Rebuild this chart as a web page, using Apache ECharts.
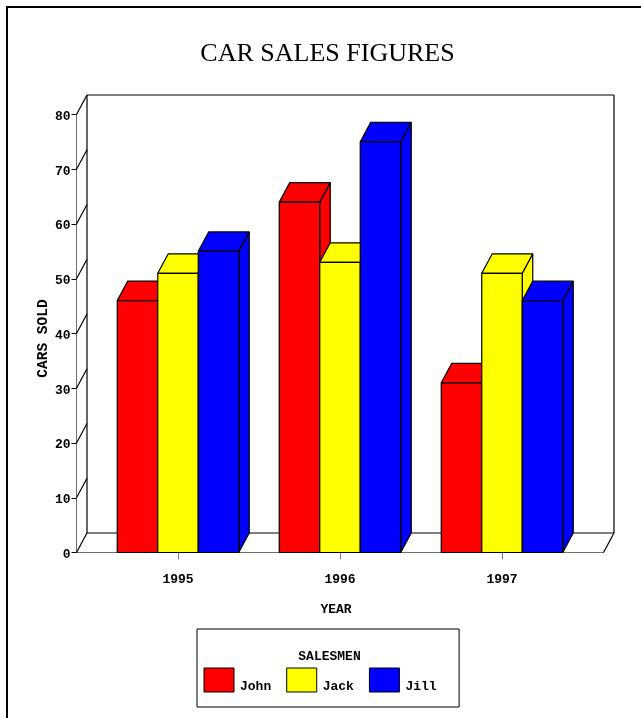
<!DOCTYPE html>
<html><head><meta charset="utf-8">
<style>html,body{margin:0;padding:0;background:#fff}#c{width:641px;height:718px}</style>
<script src="https://cdn.jsdelivr.net/npm/echarts@6/dist/echarts.min.js"></script>
</head><body><div id="c"></div>
<script>
const years = [1995, 1996, 1997];
const john = [46, 64, 31];
const jack = [51, 53, 51];
const jill = [55, 75, 46];
const yTicks = [0, 10, 20, 30, 40, 50, 60, 70, 80];
const xMin = 1994.3735, xMax = 1997.6265, barUnits = 0.25;
const depthX = 10.5, depthY = 19.5;
const MONO = '"Liberation Mono", monospace';

const chart = echarts.init(document.getElementById('c'), null, {renderer: 'canvas'});
function line(a, b, stroke) {
  return {type: 'line', shape: {x1: a[0], y1: a[1], x2: b[0], y2: b[1]},
          style: {stroke: stroke || '#000', lineWidth: 1.2}};
}
function poly(pts, fill) {
  return {type: 'polygon', shape: {points: pts},
          style: {fill: fill, stroke: '#000', lineWidth: 1.2, lineJoin: 'bevel'}};
}
function barSeries(name, color, values, idx) {
  return {
    name, type: 'custom', z: 3, itemStyle: {color},
    data: years.map((y, i) => [y, values[i]]),
    encode: {x: 0, y: 1},
    renderItem(params, api) {
      const x = api.value(0) + (idx - 1.5) * barUnits;
      const tl = api.coord([x, api.value(1)]);
      const br = api.coord([x + barUnits, 0]);
      const L = tl[0], T = tl[1], R = br[0], B = br[1];
      return {type: 'group', children: [
        poly([[R, T], [R + depthX, T - depthY], [R + depthX, B - depthY], [R, B]], color),
        poly([[L, T], [L + depthX, T - depthY], [R + depthX, T - depthY], [R, T]], color),
        poly([[L, T], [R, T], [R, B], [L, B]], color)
      ]};
    }
  };
}
const frameSeries = {
  type: 'custom', z: 1, silent: true, name: 'frame',
  data: yTicks.map(v => [xMin, v]),
  encode: {x: 0, y: 1},
  renderItem(params, api) {
    const v = api.value(1);
    const p = api.coord([xMin, v]);
    const kids = [line(p, [p[0] + depthX, p[1] - depthY])];
    if (v === 0) {
      const r = api.coord([xMax, 0]);
      const t = api.coord([xMin, 80]);
      const bl = [p[0] + depthX, p[1] - depthY], br = [r[0] + depthX, r[1] - depthY];
      const tl = [t[0] + depthX, t[1] - depthY], tr = [br[0], tl[1]];
      kids.push(line(bl, br), line(r, br), line(bl, tl), line(tl, tr), line(br, tr));
    }
    return {type: 'group', children: kids};
  }
};
chart.setOption({
  animation: false,
  backgroundColor: '#fff',
  title: {
    text: 'CAR SALES FIGURES', left: 322.5, top: 36, textAlign: 'center',
    textStyle: {fontFamily: '"Liberation Serif", serif', fontSize: 26, fontWeight: 'normal', color: '#000'}
  },
  grid: {left: 76.5, right: 37.5, top: 114.5, bottom: 165.5, containLabel: false},
  xAxis: {
    type: 'value', min: xMin, max: xMax,
    name: 'YEAR', nameLocation: 'middle', nameGap: 51, nameMoveOverlap: false,
    nameTextStyle: {fontFamily: MONO, fontSize: 13, fontWeight: 'bold', color: '#000', padding: [0, 8, 0, 0]},
    splitLine: {show: false},
    axisLine: {show: true, lineStyle: {color: '#707070', width: 1}},
    axisTick: {show: true, length: 7, customValues: years, lineStyle: {color: '#808080'}},
    axisLabel: {show: true, customValues: years, margin: 21, formatter: v => String(v),
      fontFamily: MONO, fontSize: 13, fontWeight: 'bold', color: '#000'}
  },
  yAxis: {
    type: 'value', min: 0, max: 80, interval: 10,
    name: 'CARS SOLD', nameLocation: 'middle', nameGap: 26, nameRotate: 90, nameMoveOverlap: false,
    nameTextStyle: {fontFamily: MONO, fontSize: 14.5, fontWeight: 'bold', color: '#000', padding: [0, 10, 0, 0]},
    splitLine: {show: false},
    axisLine: {show: true, lineStyle: {color: '#707070', width: 1}},
    axisTick: {show: true, length: 5, lineStyle: {color: '#000'}},
    axisLabel: {margin: 6, formatter: '{t|{value}}', fontFamily: MONO, fontSize: 13, fontWeight: 'bold', color: '#000',
      rich: {t: {fontFamily: MONO, fontSize: 13, fontWeight: 'bold', color: '#000', padding: [4, 0, 0, 0]}}}
  },
  legend: {
    show: true, data: ['John', 'Jack', 'Jill'], left: 197, top: 629, orient: 'horizontal',
    padding: [38.5, 22.5, 14, 6.5], itemWidth: 30, itemHeight: 24, itemGap: 15,
    icon: 'rect', borderColor: '#000', borderWidth: 1, backgroundColor: '#fff',
    selectedMode: false,
    itemStyle: {borderColor: '#000', borderWidth: 1},
    formatter: '{t|{name}}',
    textStyle: {fontFamily: MONO, fontSize: 13, fontWeight: 'bold', color: '#000',
      rich: {t: {fontFamily: MONO, fontSize: 13, fontWeight: 'bold', color: '#000', padding: [13, 0, 0, 1]}}}
  },
  graphic: [
    {type: 'line', silent: true, z: -1, shape: {x1: 6, y1: 7, x2: 641, y2: 7},
      style: {stroke: '#000', lineWidth: 2}},
    {type: 'line', silent: true, z: -1, shape: {x1: 7, y1: 6, x2: 7, y2: 718},
      style: {stroke: '#000', lineWidth: 2}},
    {type: 'text', silent: true, z: 10, x: 329.5, y: 657,
      style: {text: 'SALESMEN', fontFamily: MONO, fontSize: 13, fontWeight: 'bold', fill: '#000',
              textAlign: 'center', textVerticalAlign: 'middle'}}
  ],
  series: [frameSeries, barSeries('John', '#ff0000', john, 0), barSeries('Jack', '#ffff00', jack, 1), barSeries('Jill', '#0000ff', jill, 2)]
});
</script></body></html>
